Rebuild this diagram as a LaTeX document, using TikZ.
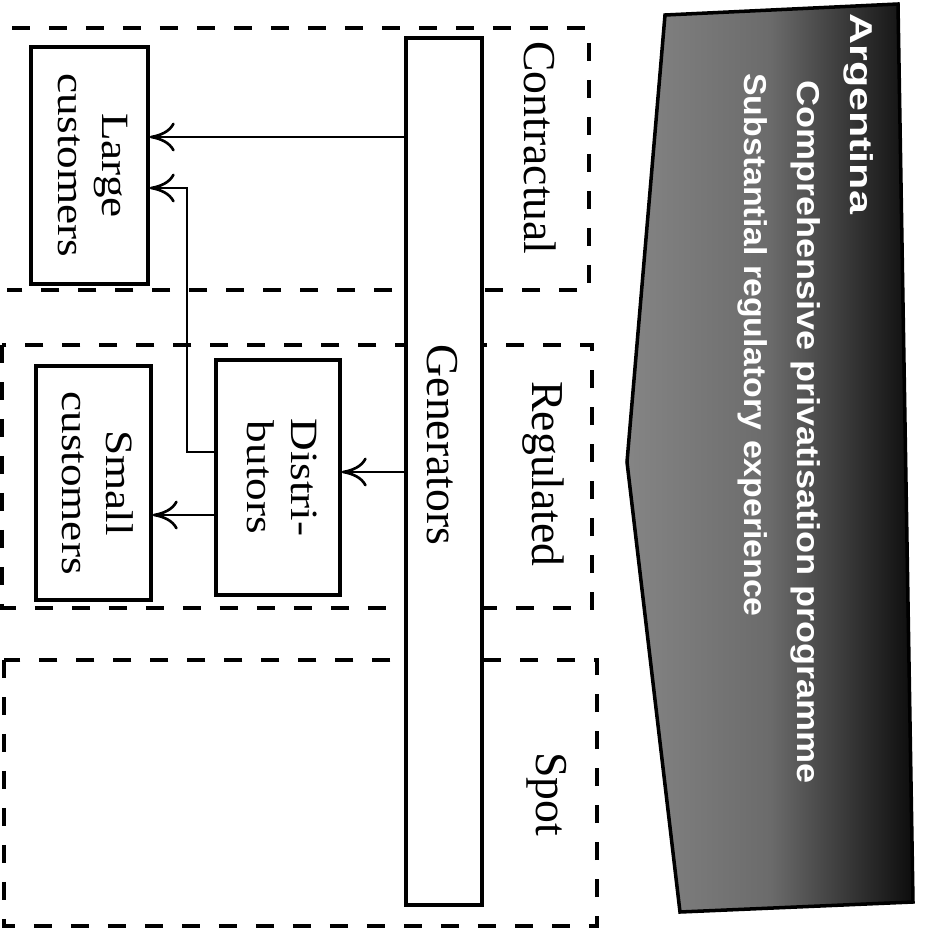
\documentclass[tikz,border=0pt]{standalone}
\usepackage{fontspec}
\setmainfont{Liberation Serif}
\newfontfamily\bannerfont{Liberation Sans}
\usetikzlibrary{arrows.meta}
\begin{document}
\begin{tikzpicture}[x=0.02cm,y=-0.02cm,
  region/.style={line width=1.9pt, dash pattern=on 0.36cm off 0.38cm},
  box/.style={draw, line width=2pt, inner sep=0pt, align=center, font=\fontsize{22}{25}\selectfont},
  arr/.style={line width=1.5pt, -{Computer Modern Rightarrow[length=5mm,width=5.8mm,line width=1.5pt]}},
  lbl/.style={rotate=-90, anchor=base, font=\fontsize{26}{30}\selectfont, inner sep=0pt},
  ban/.style={rotate=-90, anchor=base west, text=white, inner sep=0pt, font=\bannerfont\bfseries\fontsize{18}{20}\selectfont}
]
\useasboundingbox (0,0) rectangle (926,931);
% banner
\shadedraw[left color=black!48, right color=black!95, middle color=black!58, draw=black, line width=2pt]
  (665,15) -- (898,4) -- (913,902) -- (680,912) -- (627,462) -- cycle;
\node[ban] (t1) at (850,13) {\scalebox{1.36}[1]{Argentina}};
\node[ban] (t2) at (797,80) {\scalebox{1.14}[1]{Comprehensive privatisation programme}};
\node[ban] (t3) at (744,73) {\scalebox{1.07}[1]{Substantial regulatory experience}};
% regions
\draw[region] (12,28) -- (589,28) -- (589,290) -- (7,290);
\draw[region] (2,345) rectangle (592,608);
\draw[region] (4,660) rectangle (597,926);
% labels
\node[lbl] (lc) at (524,148) {Contractual};
\node[lbl] (lr) at (532,474) {Regulated};
\node[lbl] (ls) at (536,794) {Spot};
% generators bar
\node[draw, fill=white, line width=2pt, minimum width=1.52cm, minimum height=17.34cm, inner sep=0pt] (gen) at (444,471.5) {};
\node[lbl] (gent) at (427,445) {Generators};
% boxes
\node[box, minimum width=2.34cm, minimum height=4.74cm] (large) at (89.5,165.5)
  {\rotatebox{-90}{\scalebox{1.17}[1]{\begin{tabular}{@{}c@{}}Large\\customers\end{tabular}}}};
\node[box, minimum width=2.48cm, minimum height=4.70cm] (dist) at (278,477.5)
  {\rotatebox{-90}{\scalebox{1.17}[1]{\begin{tabular}{@{}c@{}}Distri-\\butors\end{tabular}}}};
\node[box, minimum width=2.30cm, minimum height=4.68cm] (small) at (93.5,483)
  {\rotatebox{-90}{\scalebox{1.17}[1]{\begin{tabular}{@{}c@{}}Small\\customers\end{tabular}}}};
% connectors
\coordinate (bend) at (187,188);
\draw[arr] (gen.west |- 0,137) -- (large.east |- 0,137);
\draw[arr] (dist.west |- 0,452) -| (bend) -- (large.east |- bend);
\draw[arr] (gen.west |- 0,472) -- (dist.east |- 0,472);
\draw[arr] (dist.west |- 0,515) -- (small.east |- 0,515);
\end{tikzpicture}
\end{document}
